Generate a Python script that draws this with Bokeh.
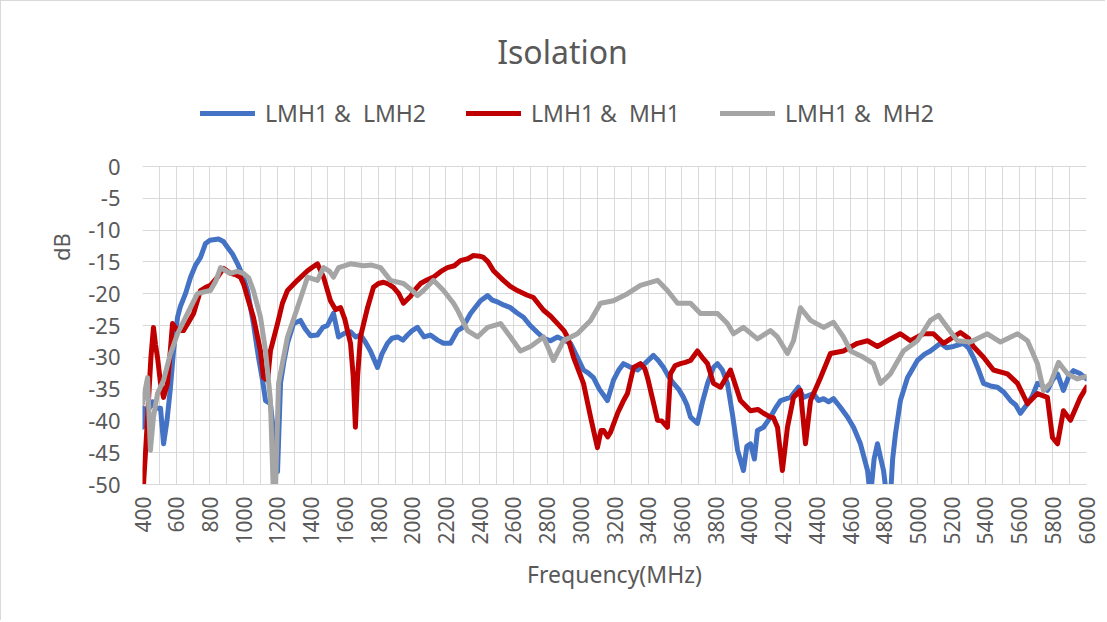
from bokeh.plotting import figure
from bokeh.models import Legend, LegendItem, FixedTicker, Range1d, Label, PrintfTickFormatter
from bokeh.embed import file_html
from bokeh.resources import INLINE

# ---------------- data ----------------
series_names = ["LMH1 &  LMH2", "LMH1 &  MH1", "LMH1 &  MH2"]

blue_freq = [400, 406, 430, 460, 480, 507, 525, 545, 565, 584, 608, 625, 655, 685, 715, 744, 774, 800,
             851, 880, 904, 935, 964, 995, 1023, 1058, 1088, 1112, 1130, 1159, 1189, 1201, 1219, 1240,
             1260, 1296, 1337, 1365, 1397, 1438, 1470, 1497, 1533, 1563, 1600, 1634, 1665, 1693, 1720,
             1752, 1794, 1820, 1853, 1880, 1913, 1945, 1972, 2000, 2031, 2070, 2108, 2150, 2186, 2227,
             2269, 2300, 2346, 2405, 2447, 2475, 2506, 2545, 2583, 2620, 2660, 2700, 2743, 2780, 2820,
             2862, 2900, 2939, 2980, 3016, 3045, 3075, 3110, 3158, 3194, 3225, 3253, 3290, 3336, 3380,
             3431, 3460, 3491, 3520, 3550, 3580, 3609, 3630, 3651, 3692, 3722, 3752, 3787, 3811, 3840,
             3870, 3900, 3930, 3965, 3985, 4007, 4030, 4048, 4084, 4125, 4155, 4185, 4244, 4291, 4321,
             4350, 4380, 4410, 4440, 4470, 4499, 4541, 4582, 4618, 4659, 4701, 4718, 4740, 4760, 4780,
             4796, 4815, 4837, 4850, 4867, 4896, 4938, 4997, 5040, 5074, 5134, 5170, 5211, 5270, 5300,
             5329, 5360, 5389, 5430, 5472, 5510, 5549, 5580, 5608, 5650, 5680, 5709, 5740, 5768, 5800,
             5828, 5863, 5895, 5923, 5964, 6000]
blue_db = [-41, -38, -38.5, -37, -38, -38, -43.6, -40, -35, -29, -23.7, -22, -20, -17.4, -15.5, -14.3,
           -12.1, -11.6, -11.4, -11.8, -12.7, -13.8, -15.3, -17.2, -19.5, -24.7, -30, -33.6, -36.8,
           -37.3, -44.6, -48, -34, -30.5, -27.8, -24.7, -24.2, -25.5, -26.6, -26.5, -25.3, -25, -23.1,
           -26.8, -26.2, -26, -26.8, -26.5, -27.5, -29, -31.6, -29.5, -27.8, -27, -26.8, -27.3, -26.5,
           -25.8, -25.3, -26.8, -26.5, -27.3, -27.8, -27.8, -25.8, -25.3, -23.1, -21.1, -20.3, -21,
           -21.3, -21.8, -22.2, -23, -23.7, -25, -26.1, -27, -27.4, -26.8, -27.3, -27.8, -30, -32,
           -32.5, -33.2, -35, -36.8, -33.6, -32, -31, -31.5, -32, -31, -29.7, -30.5, -31.6, -33, -34.1,
           -35, -36.3, -37.5, -39.4, -40.4, -37, -34.1, -31.6, -31, -32, -34.1, -39, -44.6, -47.8, -44,
           -43.6, -46, -41.5, -41, -39.4, -38, -36.8, -36.3, -34.7, -36.3, -36, -35.7, -36.8, -36.5,
           -37, -36.5, -37.9, -39.4, -41, -43.6, -47.8, -52, -46, -43.6, -46, -47.8, -52, -52, -46,
           -42, -36.8, -33.2, -30.5, -29.5, -29, -27.8, -28.5, -28.3, -27.8, -28.5, -30, -32, -34.1,
           -34.5, -34.7, -35.5, -36.8, -37.5, -38.8, -37.3, -36, -34.1, -34.5, -35.2, -33.5, -32.6,
           -35.2, -33, -32.1, -32.6, -33.4]

red_freq = [400, 406, 420, 430, 450, 465, 477, 489, 507, 525, 548, 565, 578, 608, 643, 673, 703, 744,
            775, 803, 845, 880, 922, 950, 981, 1000, 1023, 1058, 1100, 1118, 1142, 1159, 1201, 1230,
            1260, 1319, 1379, 1410, 1438, 1474, 1515, 1545, 1575, 1600, 1634, 1650, 1663, 1676, 1693,
            1735, 1770, 1800, 1830, 1860, 1889, 1920, 1948, 1990, 2020, 2049, 2090, 2126, 2170, 2209,
            2250, 2286, 2330, 2363, 2400, 2423, 2450, 2482, 2541, 2580, 2624, 2680, 2719, 2779, 2820,
            2862, 2900, 2921, 2957, 3016, 3058, 3080, 3099, 3120, 3135, 3160, 3176, 3218, 3250, 3277,
            3313, 3354, 3380, 3396, 3430, 3455, 3480, 3514, 3532, 3560, 3591, 3620, 3651, 3692, 3720,
            3752, 3787, 3829, 3888, 3947, 4007, 4050, 4084, 4125, 4143, 4167, 4196, 4226, 4262, 4303,
            4333, 4363, 4422, 4481, 4558, 4641, 4701, 4760, 4819, 4896, 4956, 5033, 5092, 5152, 5200,
            5252, 5300, 5329, 5389, 5448, 5531, 5591, 5650, 5709, 5768, 5798, 5828, 5863, 5905, 5964,
            6000]
red_db = [-52, -50, -44, -39.4, -30, -25.3, -28, -30, -34.1, -36.3, -34.1, -29, -24.7, -25.8, -25.8,
          -24.5, -23.1, -19.5, -19, -18.7, -17.4, -16, -16.8, -17, -17.4, -18.5, -20.6, -23.7, -29,
          -33.2, -33.6, -29, -24.7, -21.5, -19.5, -17.9, -16.4, -15.8, -15.3, -17.4, -21.1, -22.5,
          -22.2, -24, -27.8, -33, -41, -33, -26.8, -22.2, -19, -18.4, -18.2, -18.5, -19, -20, -21.5,
          -20.4, -19.3, -18.4, -17.8, -17.4, -16.5, -15.9, -15.6, -14.8, -14.5, -14, -14.1, -14.3,
          -15, -16.4, -17.9, -18.8, -19.5, -20.2, -20.6, -22.6, -23.5, -24.7, -25.8, -26.8, -30,
          -34.1, -39.4, -42, -44.2, -41.5, -41.5, -42.5, -41.8, -38.8, -37, -35.7, -31.6, -31, -31.8,
          -33.2, -37, -39.9, -40, -41, -32.6, -31.3, -31, -30.8, -30.5, -29, -30, -31, -34.1, -34.7,
          -32, -36.8, -38.4, -38.2, -38.8, -39.4, -39.5, -41, -47.8, -41, -36.3, -35.2, -43.6, -36.8,
          -33.2, -29.4, -29, -27.8, -27.4, -28.3, -27.4, -26.3, -27.4, -26.3, -26.3, -27.8, -27,
          -26.1, -27, -28.3, -30, -32, -32.6, -34.1, -37.3, -35.7, -36.3, -42.6, -43.6, -38.4, -39.9,
          -36.3, -34.7]

gray_freq = [400, 430, 447, 465, 489, 525, 566, 608, 667, 726, 770, 803, 835, 863, 900, 922, 960, 999,
             1030, 1058, 1100, 1130, 1159, 1177, 1190, 1207, 1260, 1319, 1379, 1438, 1474, 1510, 1533,
             1563, 1634, 1711, 1760, 1812, 1871, 1948, 2000, 2031, 2067, 2126, 2186, 2245, 2269, 2328,
             2387, 2447, 2524, 2583, 2642, 2702, 2779, 2838, 2897, 2980, 3058, 3117, 3194, 3277, 3354,
             3455, 3514, 3574, 3651, 3710, 3811, 3870, 3906, 3965, 4048, 4125, 4167, 4226, 4262, 4303,
             4363, 4440, 4499, 4558, 4600, 4677, 4736, 4778, 4837, 4914, 4997, 5074, 5122, 5175, 5234,
             5311, 5412, 5490, 5591, 5650, 5709, 5745, 5786, 5834, 5887, 5946, 6000]
gray_db = [-37.3, -33.2, -44.6, -39.4, -35.7, -33.6, -29.4, -26.3, -23.1, -20, -19.7, -19.5, -18,
           -15.9, -16.5, -16.8, -16.5, -16.8, -17.5, -19.5, -23.7, -29, -36.8, -52, -50, -34.1, -26.8,
           -22.2, -17.4, -17.9, -15.9, -16.5, -17.4, -15.9, -15.3, -15.6, -15.5, -15.9, -17.9, -18.4,
           -19.5, -20.3, -19.5, -17.9, -19.5, -21.5, -22.6, -25.8, -26.8, -25.3, -24.7, -26.8, -29,
           -28.3, -26.8, -30.5, -27.4, -26.3, -24.2, -21.5, -21.1, -20, -18.7, -17.9, -19.5, -21.5,
           -21.5, -23.1, -23.1, -24.7, -26.3, -25.3, -27.1, -25.8, -26.8, -29.4, -27.4, -22.2, -24.2,
           -25.3, -24.5, -26.8, -29, -30, -31, -34.1, -32.6, -29, -27.4, -24.2, -23.4, -25.3, -27.4,
           -27.6, -26.3, -27.6, -26.3, -27.4, -31, -35.2, -34.1, -30.8, -32.6, -33.4, -33]

y_ticks = list(range(-50, 1, 5))
x_ticks = list(range(400, 6001, 200))
x_grid = list(range(400, 6001, 100))
y_min, y_max = -50, 0
x_min, x_max = 400, 6000

# ---------------- layout / styling ----------------
FONT = "Noto Sans"
TXT = "#595959"
GRID = "#d9d9d9"
colors = ["#4472C4", "#C00000", "#A5A5A5"]

W, H = 1105, 620
B_LEFT, B_RIGHT, B_TOP, B_BOTTOM = 141, 20, 8, 137
PLOT_H = 318          # pixel height of the -50..0 band
frame_h = H - B_TOP - B_BOTTOM
# the frame extends above 0 dB so the title and legend can live inside it (not clipped)
y_top = y_min + (y_max - y_min) * frame_h / PLOT_H

p = figure(width=W, height=H, output_backend="svg", toolbar_location=None,
           x_range=Range1d(x_min, x_max), y_range=Range1d(y_min, y_top),
           min_border_left=B_LEFT, min_border_right=B_RIGHT,
           min_border_top=B_TOP, min_border_bottom=B_BOTTOM,
           background_fill_color="white", border_fill_color="white",
           styles={"border-left": "1px solid #d9d9d9", "border-top": "1px solid #d9d9d9"})
p.outline_line_color = None

renderers = []
for fx, fy, c in [(blue_freq, blue_db, colors[0]), (red_freq, red_db, colors[1]),
                  (gray_freq, gray_db, colors[2])]:
    r = p.line(fx, fy, line_color=c, line_width=5, line_join="round", line_cap="round")
    renderers.append(r)

# grids
p.xgrid.ticker = FixedTicker(ticks=x_grid)
p.xgrid.grid_line_color = GRID
p.xgrid.cross_bounds = (y_min, y_max)
p.ygrid.grid_line_color = GRID
p.ygrid.ticker = FixedTicker(ticks=y_ticks)

# x axis
xa = p.xaxis[0]
xa.ticker = FixedTicker(ticks=x_ticks)
xa.major_label_orientation = 1.5707963
xa.axis_line_color = GRID
xa.major_tick_line_color = None
xa.minor_tick_line_color = None
xa.major_label_text_font = FONT
xa.major_label_text_font_size = "21px"
xa.major_label_text_color = TXT
xa.major_label_standoff = 6
xa.axis_label = "Frequency(MHz)"
xa.axis_label_text_font = FONT
xa.axis_label_text_font_size = "23px"
xa.axis_label_text_font_style = "normal"
xa.axis_label_text_color = TXT
xa.axis_label_standoff = 10

# y axis
ya = p.yaxis[0]
ya.ticker = FixedTicker(ticks=y_ticks)
ya.formatter = PrintfTickFormatter(format="%d")
ya.bounds = (y_min, y_max)
ya.axis_line_color = None
ya.major_tick_line_color = None
ya.minor_tick_line_color = None
ya.major_label_text_font = FONT
ya.major_label_text_font_size = "22px"
ya.major_label_text_color = TXT
ya.major_label_standoff = 16
ya.axis_label = "dB"
ya.axis_label_text_font = FONT
ya.axis_label_text_font_size = "22px"
ya.axis_label_text_font_style = "normal"
ya.axis_label_text_color = TXT
ya.axis_label_standoff = 9

# title (inside the extended frame, above 0 dB)
title = Label(x=420, y=433, x_units="screen", y_units="screen", text="Isolation",
              text_font=FONT, text_font_size="32px", text_color=TXT,
              text_align="center", text_baseline="middle")
p.add_layout(title)

legend = Legend(items=[LegendItem(label=n, renderers=[r]) for n, r in zip(series_names, renderers)],
                orientation="horizontal", location=(58, 355),
                glyph_width=55, glyph_height=22, label_standoff=10, spacing=40,
                padding=0, margin=0, border_line_color=None, background_fill_alpha=0,
                label_text_font=FONT, label_text_font_size="23px", label_text_color=TXT)
p.add_layout(legend, "center")

open("out.html", "w").write(file_html(p, INLINE))
